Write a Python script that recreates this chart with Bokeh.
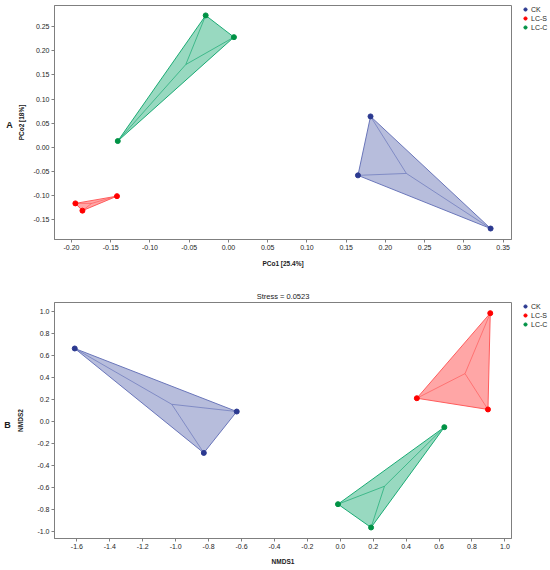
import numpy as np
from bokeh.plotting import figure
from bokeh.models import Legend, LegendItem, FixedTicker, Label, Range1d
from bokeh.layouts import column, row
from bokeh.embed import file_html
from bokeh.resources import INLINE

groups = ["CK", "LC-S", "LC-C"]

# Panel A: PCoA
pcoa_ck_x = [0.181, 0.165, 0.334]
pcoa_ck_y = [0.064, -0.058, -0.168]
pcoa_lcs_x = [-0.195, -0.186, -0.142]
pcoa_lcs_y = [-0.116, -0.131, -0.101]
pcoa_lcc_x = [-0.029, 0.007, -0.141]
pcoa_lcc_y = [0.273, 0.228, 0.013]

# Panel B: NMDS
nmds_ck_x = [-1.613, -0.629, -0.829]
nmds_ck_y = [0.667, 0.094, -0.282]
nmds_lcs_x = [0.911, 0.465, 0.897]
nmds_lcs_y = [0.988, 0.215, 0.113]
nmds_lcc_x = [0.632, -0.014, 0.187]
nmds_lcc_y = [-0.048, -0.748, -0.960]

pcoa_xticks = [-0.20, -0.15, -0.10, -0.05, 0.00, 0.05, 0.10, 0.15, 0.20, 0.25, 0.30, 0.35]
pcoa_xlabels = ["-0.20", "-0.15", "-0.10", "-0.05", "0.00", "0.05", "0.10", "0.15", "0.20", "0.25", "0.30", "0.35"]
pcoa_yticks = [-0.15, -0.10, -0.05, 0.00, 0.05, 0.10, 0.15, 0.20, 0.25]
pcoa_ylabels = ["-0.15", "-0.10", "-0.05", "0.00", "0.05", "0.10", "0.15", "0.20", "0.25"]
nmds_xticks = [-1.6, -1.4, -1.2, -1.0, -0.8, -0.6, -0.4, -0.2, 0.0, 0.2, 0.4, 0.6, 0.8, 1.0]
nmds_xlabels = ["-1.6", "-1.4", "-1.2", "-1.0", "-0.8", "-0.6", "-0.4", "-0.2", "0.0", "0.2", "0.4", "0.6", "0.8", "1.0"]
nmds_yticks = [-1.0, -0.8, -0.6, -0.4, -0.2, 0.0, 0.2, 0.4, 0.6, 0.8, 1.0]
nmds_ylabels = ["-1.0", "-0.8", "-0.6", "-0.4", "-0.2", "0.0", "0.2", "0.4", "0.6", "0.8", "1.0"]

marker_col = {"CK": "#2b3990", "LC-S": "#ff0000", "LC-C": "#009245"}
fill_col = {"CK": "#4a5aa8", "LC-S": "#ff2a2a", "LC-C": "#1aab74"}
line_col = {"CK": "#6a76ba", "LC-S": "#ff5c5c", "LC-C": "#1aab74"}
fill_alpha = {"CK": 0.4, "LC-S": 0.42, "LC-C": 0.45}

FONT = "Liberation Sans"
H = 285
LETTER_W = 14
LEG_W = 38
MAIN_W = 550 - LETTER_W - LEG_W


def blank_fig(width, left=0):
    # ranges far away from the data so that legend-source points stay off-canvas
    f = figure(width=width, height=H, x_range=Range1d(10, 11), y_range=Range1d(10, 11),
               output_backend="svg", toolbar_location=None,
               x_axis_location=None, y_axis_location=None,
               min_border_left=left, min_border_right=0, min_border_top=0, min_border_bottom=0)
    f.grid.visible = False
    f.outline_line_color = None
    return f


def make_panel(data, xr, yr, xt, xl, yt, yl, xlab, ylab, btop, bbot,
               panel_letter, letter_x, letter_y, ylab_standoff, xlab_standoff, title=None):
    p = figure(width=MAIN_W, height=H, x_range=xr, y_range=yr,
               output_backend="svg", toolbar_location=None,
               min_border_left=53 - LETTER_W, min_border_right=1,
               min_border_top=btop, min_border_bottom=bbot)
    if title:
        p.title.text = title
        p.title.align = "center"
        p.title.text_font = FONT
        p.title.text_font_size = "7.5px"
        p.title.text_font_style = "normal"
        p.title.text_color = "#1a1a1a"
        p.title.standoff = 3
    p.grid.visible = False
    p.outline_line_color = "#7f7f7f"
    p.outline_line_width = 1
    for g, (xs, ys) in zip(groups, data):
        p.patch(xs, ys, fill_color=fill_col[g], fill_alpha=fill_alpha[g],
                line_color=line_col[g], line_width=1)
        cx = float(np.mean(xs))
        cy = float(np.mean(ys))
        p.segment(x0=[cx] * len(xs), y0=[cy] * len(ys), x1=xs, y1=ys,
                  line_color=line_col[g], line_alpha=0.7, line_width=1)
        p.scatter(xs, ys, size=5, fill_color=marker_col[g], line_color=marker_col[g])
    for ax, ticks, labels in ((p.xaxis[0], xt, xl), (p.yaxis[0], yt, yl)):
        ax.ticker = FixedTicker(ticks=ticks, minor_ticks=[])
        ax.major_label_overrides = {t: s for t, s in zip(ticks, labels)}
        ax.major_label_text_font = FONT
        ax.major_label_text_font_size = "7px"
        ax.major_label_text_color = "#262626"
        ax.axis_label_text_font = FONT
        ax.axis_label_text_font_size = "6.5px"
        ax.axis_label_text_font_style = "bold"
        ax.axis_label_text_color = "#1a1a1a"
        ax.axis_line_color = "#7f7f7f"
        ax.major_tick_line_color = "#7f7f7f"
        ax.major_tick_out = 3
        ax.major_tick_in = 0
        ax.minor_tick_out = 0
        ax.minor_tick_in = 0
        ax.major_label_standoff = 2
    p.xaxis[0].axis_label = xlab
    p.yaxis[0].axis_label = ylab
    p.xaxis[0].axis_label_standoff = xlab_standoff
    p.yaxis[0].axis_label_standoff = ylab_standoff

    # panel letter (its frame is aligned with the main frame by the row layout)
    lf = blank_fig(LETTER_W)
    lf.add_layout(Label(x=letter_x, y=letter_y, x_units="screen", y_units="screen",
                        text=panel_letter, text_font=FONT, text_font_size="9px",
                        text_font_style="bold", text_align="center", text_baseline="middle",
                        text_color="#1a1a1a"))

    # legend (renderers hold the group's data, which lies outside this figure's ranges)
    gf = blank_fig(LEG_W, left=9)
    items = []
    for g, (xs, ys) in zip(groups, data):
        r = gf.scatter(x=xs, y=ys, size=5, fill_color=marker_col[g], line_color=marker_col[g])
        items.append(LegendItem(label=g, renderers=[r]))
    leg = Legend(items=items, location="top_left", orientation="vertical",
                 glyph_width=8, glyph_height=8, label_height=8, label_standoff=2,
                 spacing=1, padding=0, margin=0, border_line_color=None,
                 background_fill_alpha=0, label_text_font=FONT,
                 label_text_font_size="7px", label_text_color="#262626")
    gf.add_layout(leg)
    return row(lf, p, gf, spacing=0)


r1 = make_panel(
    [(pcoa_ck_x, pcoa_ck_y), (pcoa_lcs_x, pcoa_lcs_y), (pcoa_lcc_x, pcoa_lcc_y)],
    (-0.2216, 0.3606), (-0.1907, 0.2935),
    pcoa_xticks, pcoa_xlabels, pcoa_yticks, pcoa_ylabels,
    "PCo1 [25.4%]", "PCo2 [18%]", 5, 46, "A", 9, 239 - 124, 6, 7)

r2 = make_panel(
    [(nmds_ck_x, nmds_ck_y), (nmds_lcs_x, nmds_lcs_y), (nmds_lcc_x, nmds_lcc_y)],
    (-1.736, 1.040), (-1.06, 1.085),
    nmds_xticks, nmds_xlabels, nmds_yticks, nmds_ylabels,
    "NMDS1", "NMDS2", 17, 32, "B", 7, 253 - 139, 10, 6, title="Stress = 0.0523")

layout = column(r1, r2, spacing=0)
open("out.html", "w").write(file_html(layout, INLINE))
